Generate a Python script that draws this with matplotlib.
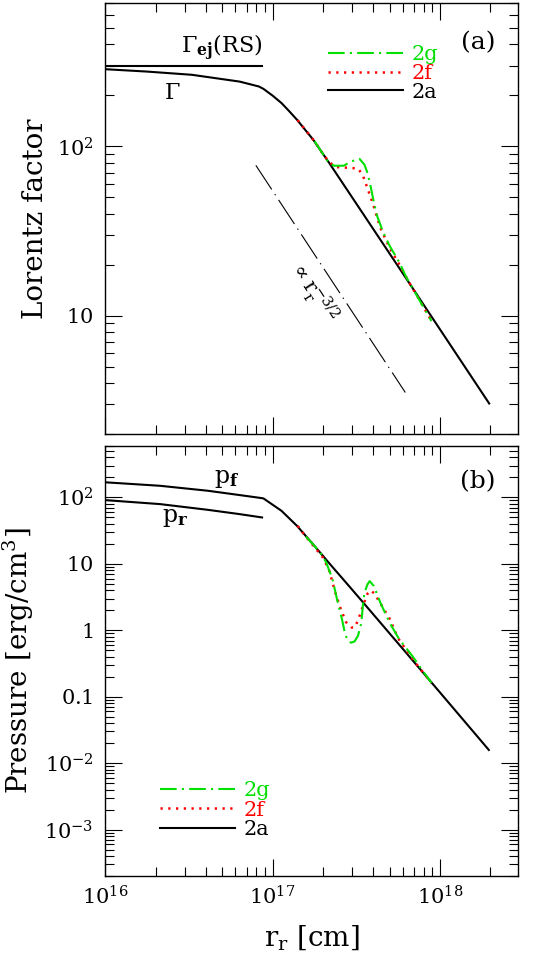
import matplotlib
matplotlib.use('Agg')
import matplotlib.pyplot as plt
import numpy as np
from matplotlib.ticker import LogLocator, FixedLocator, FixedFormatter, NullFormatter

plt.rcParams['font.family'] = ['DejaVu Serif']
plt.rcParams['mathtext.fontset'] = 'dejavuserif'

# ---------------- data ----------------
# panel (a): Lorentz factor
r_gamma_2a = [1.00e16, 1.78e16, 3.29e16, 6.35e16, 8.28e16, 8.81e16, 1.00e17, 1.13e17,
              1.26e17, 1.40e17, 1.75e17, 2.18e17, 2.96e17, 6.31e17, 1.97e18]
gamma_2a = [285.8, 276.7, 264.9, 241.5, 225.9, 218.8, 199.5, 180.3,
            161.0, 143.5, 109.4, 79.8, 50.7, 16.5, 3.03]

r_gamma_ej = [1.0e16, 8.7e16]
gamma_ej = [300.0, 300.0]

r_gamma_2f = [1.41e17, 1.78e17, 2.00e17, 2.19e17, 2.40e17, 2.69e17, 3.24e17, 3.46e17,
              3.69e17, 3.98e17, 4.40e17, 5.01e17, 5.73e17, 6.53e17, 7.41e17, 8.9e17]
gamma_2f = [143.0, 107.2, 90.2, 80.4, 75.5, 75.0, 74.1, 67.6,
            56.5, 45.7, 33.1, 25.1, 20.0, 15.8, 12.8, 9.3]

r_gamma_2g = [1.78e17, 2.00e17, 2.16e17, 2.33e17, 2.66e17, 2.96e17, 3.31e17, 3.54e17,
              3.69e17, 3.85e17, 4.03e17, 4.21e17, 4.59e17, 5.01e17, 5.73e17, 6.25e17,
              7.46e17, 8.9e17]
gamma_2g = [107.2, 90.2, 80.4, 76.9, 76.9, 81.7, 84.3, 78.0,
            69.7, 58.1, 46.8, 38.9, 30.9, 25.8, 20.6, 17.1,
            12.6, 9.3]

r_guide = [7.94e16, 6.21e17]
gamma_guide = [77.3, 3.52]

# panel (b): pressure
r_pf_2a = [1.00e16, 2.12e16, 4.10e16, 6.35e16, 8.28e16, 8.81e16, 1.13e17, 1.40e17,
           1.75e17, 2.18e17, 2.72e17, 3.39e17, 4.22e17, 8.53e17, 1.96e18]
pf_2a = [168.7, 149.6, 125.9, 108.4, 98.9, 96.6, 62.8, 37.2,
         19.5, 10.2, 5.37, 2.82, 1.48, 0.186, 0.0158]

r_pr = [1.00e16, 2.12e16, 4.10e16, 6.35e16, 8.65e16]
pr = [91.0, 79.3, 65.0, 56.0, 49.9]

r_p_2f = [1.41e17, 1.58e17, 1.78e17, 2.00e17, 2.18e17, 2.38e17, 2.57e17, 2.75e17,
          2.97e17, 3.09e17, 3.24e17, 3.46e17, 3.69e17, 3.85e17, 4.07e17, 4.37e17,
          5.01e17, 5.62e17, 6.27e17, 7.46e17, 8.9e17]
p_2f = [37.2, 25.7, 17.8, 12.4, 7.9, 3.55, 2.0, 1.32,
        1.10, 1.10, 1.41, 2.29, 3.55, 3.98, 3.55, 2.63,
        1.48, 0.76, 0.51, 0.28, 0.162]

r_p_2g = [1.58e17, 1.78e17, 1.95e17, 2.09e17, 2.28e17, 2.43e17, 2.60e17, 2.72e17,
          2.84e17, 2.95e17, 3.09e17, 3.24e17, 3.39e17, 3.46e17, 3.54e17, 3.69e17,
          3.80e17, 4.03e17, 4.41e17, 5.01e17, 5.73e17, 6.84e17, 7.94e17, 8.9e17]
p_2g = [25.7, 18.6, 14.1, 10.5, 5.89, 2.88, 1.45, 0.85,
        0.68, 0.65, 0.68, 0.83, 1.29, 2.29, 3.67, 4.90,
        5.50, 4.62, 2.59, 1.29, 0.72, 0.41, 0.24, 0.162]

# axes settings
x_major = [1e16, 1e17, 1e18]
x_major_labels = [r'$10^{16}$', r'$10^{17}$', r'$10^{18}$']
g_major = [10, 100]
g_major_labels = [r'$10$', r'$10^2$']
p_major = [1e-3, 1e-2, 0.1, 1, 10, 100]
p_major_labels = [r'$10^{-3}$', r'$10^{-2}$', r'$0.1$', r'$1$', r'$10$', r'$10^2$']

legend_labels = ['2g', '2f', '2a']
legend_colors = ['#00e000', 'red', 'black']

# ---------------- styles ----------------
BLACK = dict(color='black', lw=1.5)
RED = dict(color='red', lw=1.8, linestyle=(0, (0.9, 2.2)))
GREEN = dict(color='#00e000', lw=1.5, linestyle=(0, (8, 2.5, 1, 2.5)))
GUIDE = dict(color='black', lw=0.8, linestyle=(0, (26, 5, 1.2, 5)))

TICK_FS = 15
LABEL_FS = 20
ANN_FS = 16
LEG_FS = 15

fig = plt.figure(figsize=(5.45, 9.55), dpi=100)
ax1 = fig.add_axes([0.1932, 0.5455, 0.7578, 0.4510])
ax2 = fig.add_axes([0.1932, 0.0827, 0.7578, 0.4506])


def style_axis(ax, yticks, ylabels):
    ax.set_xscale('log')
    ax.set_yscale('log')
    ax.xaxis.set_major_locator(FixedLocator(x_major))
    ax.xaxis.set_major_formatter(FixedFormatter(x_major_labels))
    ax.xaxis.set_minor_locator(LogLocator(base=10, subs=np.arange(2, 10), numticks=30))
    ax.xaxis.set_minor_formatter(NullFormatter())
    ax.yaxis.set_major_locator(FixedLocator(yticks))
    ax.yaxis.set_major_formatter(FixedFormatter(ylabels))
    ax.yaxis.set_minor_locator(LogLocator(base=10, subs=np.arange(2, 10), numticks=30))
    ax.yaxis.set_minor_formatter(NullFormatter())
    ax.tick_params(which='both', direction='in', top=True, right=True, width=0.8,
                   labelsize=TICK_FS)
    ax.tick_params(which='major', length=12)
    ax.tick_params(which='minor', length=6.5)
    ax.tick_params(axis='y', which='major', pad=8.5)
    ax.tick_params(axis='x', which='major', pad=7)
    for s in ax.spines.values():
        s.set_linewidth(1.0)


# ---------------- panel (a) ----------------
style_axis(ax1, g_major, g_major_labels)
ax1.set_xlim(1e16, 2.94e18)
ax1.set_ylim(2, 700)
ax1.tick_params(axis='x', labelbottom=False)

ax1.plot(r_gamma_ej, gamma_ej, **BLACK)
l2a, = ax1.plot(r_gamma_2a, gamma_2a, **BLACK)
l2f, = ax1.plot(r_gamma_2f, gamma_2f, **RED)
l2g, = ax1.plot(r_gamma_2g, gamma_2g, **GREEN)
ax1.plot(r_guide, gamma_guide, **GUIDE)

# angle of the guide line on screen
p0, p1 = ax1.transData.transform([(r_guide[0], gamma_guide[0]), (r_guide[1], gamma_guide[1])])
ang = np.degrees(np.arctan2(p1[1] - p0[1], p1[0] - p0[0]))

ax1.text(0.282, 0.884, r'$\Gamma_{\mathbf{ej}}\mathrm{(RS)}$', transform=ax1.transAxes,
         fontsize=ANN_FS, ha='center', va='baseline')
ax1.text(0.163, 0.779, r'$\Gamma$', transform=ax1.transAxes,
         fontsize=ANN_FS, ha='center', va='baseline')
ax1.text(0.903, 0.9085, '(a)', transform=ax1.transAxes, fontsize=18,
         ha='center', va='center')
ax1.text(0.502, 0.330, r'$\propto \mathrm{r}_{\mathrm{r}}^{-3/2}$', transform=ax1.transAxes,
         fontsize=15, ha='center', va='center', rotation=ang, rotation_mode='anchor')

ax1.legend([l2g, l2f, l2a], legend_labels, labelcolor=legend_colors, fontsize=LEG_FS,
           frameon=False, loc='center left', bbox_to_anchor=(0.540, 0.837),
           borderpad=0, borderaxespad=0, handlelength=3.6, handletextpad=0.4,
           labelspacing=-0.02)

ax1.set_ylabel('Lorentz factor', fontsize=LABEL_FS)
ax1.yaxis.label.set_va('center')
ax1.yaxis.set_label_coords(-0.168, 0.5)

# ---------------- panel (b) ----------------
style_axis(ax2, p_major, p_major_labels)
ax2.set_xlim(1e16, 2.94e18)
ax2.set_ylim(2e-4, 600)

m2a, = ax2.plot(r_pf_2a, pf_2a, **BLACK)
ax2.plot(r_pr, pr, **BLACK)
m2f, = ax2.plot(r_p_2f, p_2f, **RED)
m2g, = ax2.plot(r_p_2g, p_2g, **GREEN)

ax2.text(0.262, 0.913, r'$\mathrm{p}_{\mathbf{f}}$', transform=ax2.transAxes,
         fontsize=ANN_FS + 1, ha='left', va='baseline')
ax2.text(0.137, 0.823, r'$\mathrm{p}_{\mathbf{r}}$', transform=ax2.transAxes,
         fontsize=ANN_FS + 1, ha='left', va='baseline')
ax2.text(0.903, 0.916, '(b)', transform=ax2.transAxes, fontsize=18,
         ha='center', va='center')

ax2.legend([m2g, m2f, m2a], legend_labels, labelcolor=legend_colors, fontsize=LEG_FS,
           frameon=False, loc='center left', bbox_to_anchor=(0.132, 0.153),
           borderpad=0, borderaxespad=0, handlelength=3.6, handletextpad=0.4,
           labelspacing=0.02)

ax2.set_ylabel(r'Pressure [erg/cm$^3$]', fontsize=LABEL_FS)
ax2.yaxis.label.set_va('center')
ax2.yaxis.set_label_coords(-0.211, 0.5)
ax2.set_xlabel(r'$\mathrm{r}_{\mathrm{r}}$ [cm]', fontsize=LABEL_FS)
ax2.xaxis.label.set_va('center')
ax2.xaxis.set_label_coords(0.5, -0.144)

fig.savefig('out.png', dpi=100)
